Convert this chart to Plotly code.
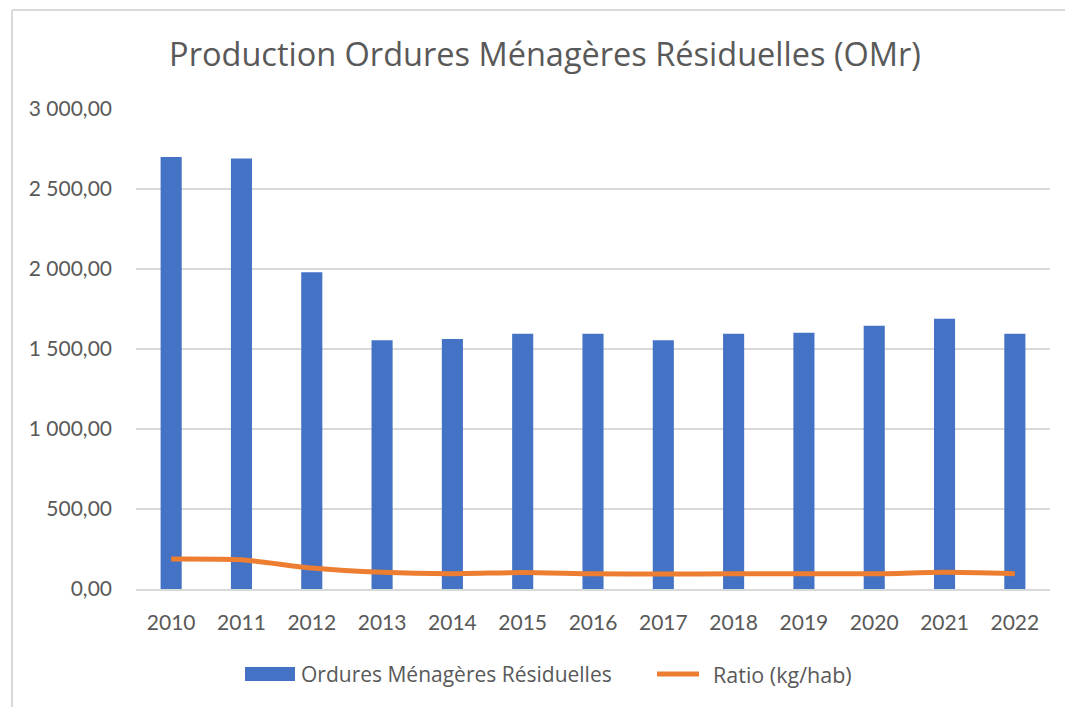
import plotly.graph_objects as go

# Annual residual household waste production and per-inhabitant ratio
years = ["2010", "2011", "2012", "2013", "2014", "2015", "2016",
         "2017", "2018", "2019", "2020", "2021", "2022"]
omr_tonnes = [2700, 2691, 1979, 1554, 1562, 1596, 1596,
              1554, 1596, 1602, 1646, 1689, 1596]
ratio_kg_hab = [188, 183, 131, 104, 96, 103, 95,
                94, 95, 95, 95, 104, 95]

y_tick_vals = [0, 500, 1000, 1500, 2000, 2500, 3000]
y_tick_text = ["0,00", "500,00", "1 000,00", "1 500,00",
               "2 000,00", "2 500,00", "3 000,00"]

BAR_NAME = "Ordures Ménagères Résiduelles"
LINE_NAME = "Ratio (kg/hab)"

BLUE = "#4472C4"
ORANGE = "#ED7D31"
GRID = "#D9D9D9"
TEXT = "#595959"
NUM_FONT = "Lato, 'Open Sans', sans-serif"
TXT_FONT = "'Open Sans', Lato, sans-serif"

fig = go.Figure()

fig.add_trace(go.Bar(
    x=years, y=omr_tonnes,
    name=BAR_NAME,
    marker=dict(color=BLUE, line=dict(width=0)),
))

fig.add_trace(go.Scatter(
    x=years, y=ratio_kg_hab,
    name=LINE_NAME,
    mode="lines",
    line=dict(color=ORANGE, width=5, shape="spline", smoothing=0.6),
))

# plot area spans roughly x 136..1050 and y 109..589 px
L, R, T, B = 136, 15, 109, 118
W, H = 1065, 707
pw = W - L - R
ph = H - T - B

def px_to_paper_x(px):
    return (px - L) / pw

def px_to_paper_y(py):
    return (H - B - py) / ph

# legend drawn below the plot: swatch + label for each series
legend_y = px_to_paper_y(674)
shapes = [
    # chart frame: top and left edges
    dict(type="line", xref="paper", yref="paper",
         x0=px_to_paper_x(12), x1=px_to_paper_x(1065),
         y0=px_to_paper_y(10), y1=px_to_paper_y(10),
         line=dict(color=GRID, width=2), layer="below"),
    dict(type="line", xref="paper", yref="paper",
         x0=px_to_paper_x(12), x1=px_to_paper_x(12),
         y0=px_to_paper_y(10), y1=px_to_paper_y(707),
         line=dict(color=GRID, width=2), layer="below"),
    # bar swatch
    dict(type="rect", xref="paper", yref="paper",
         x0=px_to_paper_x(245), x1=px_to_paper_x(295),
         y0=px_to_paper_y(681), y1=px_to_paper_y(667),
         fillcolor=BLUE, line=dict(width=0)),
    # line swatch
    dict(type="line", xref="paper", yref="paper",
         x0=px_to_paper_x(657), x1=px_to_paper_x(699),
         y0=legend_y, y1=legend_y,
         line=dict(color=ORANGE, width=5)),
]

annotations = [
    dict(text=BAR_NAME, xref="paper", yref="paper",
         x=px_to_paper_x(299), y=legend_y, xanchor="left", yanchor="middle",
         showarrow=False, font=dict(family=TXT_FONT, size=21, color=TEXT)),
    dict(text=LINE_NAME, xref="paper", yref="paper",
         x=px_to_paper_x(711), y=legend_y, xanchor="left", yanchor="middle",
         showarrow=False, font=dict(family=TXT_FONT, size=21.5, color=TEXT)),
]

fig.update_layout(
    width=W, height=H,
    margin=dict(l=L, r=R, t=T, b=B, pad=0),
    paper_bgcolor="white",
    plot_bgcolor="white",
    font=dict(family=NUM_FONT, color=TEXT, size=21),
    bargap=0.7,
    showlegend=False,
    title=dict(
        text="Production Ordures Ménagères Résiduelles (OMr)",
        font=dict(family=TXT_FONT, size=32.5, color=TEXT),
        x=545 / W, xanchor="center", xref="container",
        y=1 - 55 / H, yanchor="middle", yref="container",
    ),
    xaxis=dict(
        type="category",
        showgrid=False,
        showline=True, linecolor=GRID, linewidth=2,
        ticks="", ticklabelstandoff=14,
        tickfont=dict(family=NUM_FONT, size=21, color=TEXT),
        fixedrange=True,
    ),
    yaxis=dict(
        range=[0, 3000],
        tickvals=y_tick_vals, ticktext=y_tick_text,
        showgrid=True, gridcolor=GRID, gridwidth=2,
        zeroline=False, showline=False,
        ticks="", ticklabelstandoff=23,
        tickfont=dict(family=NUM_FONT, size=21, color=TEXT),
        fixedrange=True,
    ),
    shapes=shapes,
    annotations=annotations,
)

fig.write_html("out.html")
